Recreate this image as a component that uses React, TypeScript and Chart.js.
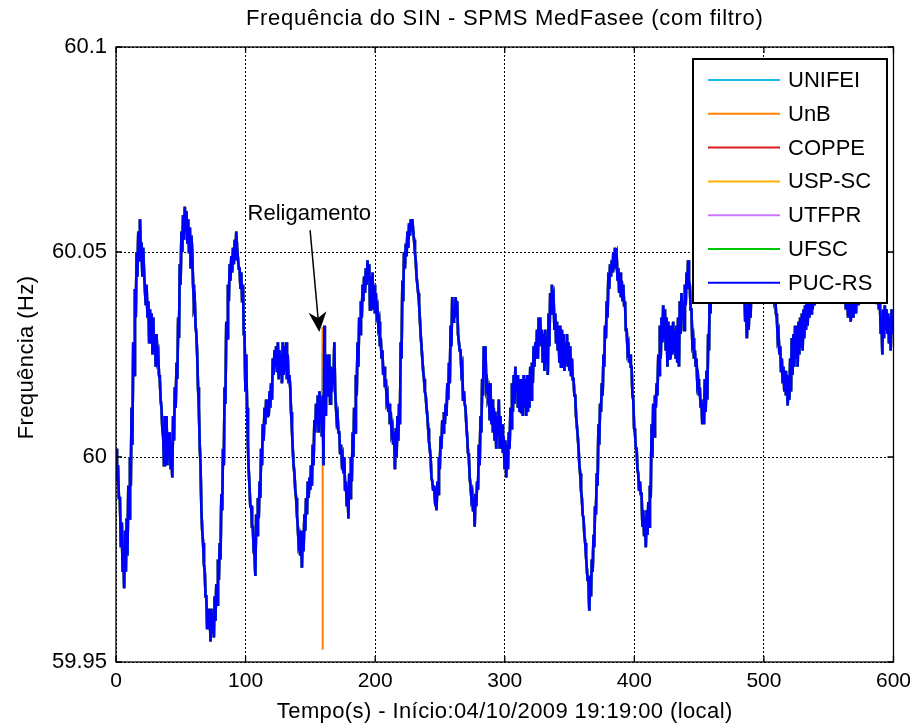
import React, { useEffect, useRef } from "react";
import { Chart, registerables } from "chart.js";

Chart.register(...registerables);

const FONT = '"Liberation Sans", Arial, Helvetica, sans-serif';

const chartTitle = "Frequência do SIN - SPMS MedFasee (com filtro)";
const xAxisTitle = "Tempo(s) - Início:04/10/2009 19:19:00 (local)";
const yAxisTitle = "Frequência (Hz)";

const xTicks = [0, 100, 200, 300, 400, 500, 600];
const yTicks = [59.95, 60, 60.05, 60.1];

const stations = ["UNIFEI", "UnB", "COPPE", "USP-SC", "UTFPR", "UFSC", "PUC-RS"];
const stationColors = ["#1ab8f0", "#ff8000", "#d81e1e", "#ffb000", "#cc77ff", "#00c800", "#0000ff"];

// Time of each reading (s)
const timeS = [
  0, 1.5, 3, 4.5, 5.6, 7, 8.2, 9.5, 10.8, 12,
  13.3, 14.6, 15.9, 17.2, 18.5, 19.7, 21, 22.3, 23.6, 25,
  26.2, 27.5, 28.8, 30, 31.3, 32.6, 33.8, 35.1, 36.4, 37.7,
  39, 40.3, 41.5, 42.8, 44.1, 45.4, 46.7, 48, 49.2, 50.5,
  51.8, 53.1, 54.4, 55.7, 57, 58.2, 59.5, 60.8, 62, 63.3,
  64.6, 65.9, 67.2, 68.5, 69.7, 71, 72.3, 73.6, 74.9, 76.1,
  77.4, 78.7, 80, 81.3, 82.6, 83.8, 85.1, 86.4, 87.7, 89,
  90.3, 91.6, 92.8, 94.1, 95.4, 96.7, 98, 99.2,
  100.5, 101.8, 103, 104.3, 105.6, 106.9, 108.2, 109.5, 110.8, 112,
  113.3, 114.6, 115.9, 117.2, 118.5, 119.7, 121, 122.3, 123.6, 124.9,
  126.2, 127.4, 128.7, 130, 131.3, 132.5, 133.8, 135.1, 136.4, 137.7,
  139, 140.3, 141.5, 142.8, 144.1, 145.4, 146.7, 148, 149.3, 150.5,
  151.8, 153.1, 154.4, 155.7, 157, 158.2, 159.5, 160.8, 161.5, 162.4,
  163.3, 164.6, 165.9, 167.2, 168.5, 169.7, 171, 172.3, 173.6, 174.9,
  176.2, 177.4, 178.7, 180, 181.3, 182.6, 183.8, 185.1, 186.4, 187.7,
  189, 190.3, 191.5, 192.8, 194.1, 195.4, 196.7, 198, 199.2,
  200.5, 201.8, 203.1, 204.3, 205.6, 206.9, 208.2, 209.5, 210.8, 212,
  213.3, 214.6, 215.9, 217.2, 218.5, 219.7, 221, 222.3, 223.6, 224.9,
  226.2, 227.5, 228.7, 230, 231.3, 232.6, 233.8, 235.1, 236.4, 237.7,
  239, 240.3, 241.5, 242.8, 244.1, 245.4, 246.7, 248, 249.2, 250.5,
  251.8, 253.1, 254.4, 255.7, 257, 258.2, 259.5, 260.8, 262.1, 263.3,
  264.6, 265.9, 267.2, 268.5, 269.7, 271, 272.3, 273.6, 274.9, 276.2,
  277.4, 278.7, 280, 281.3, 282.6, 283.8, 285.1, 286.4, 287.7, 289,
  290.3, 291.5, 292.8, 294.1, 295.4, 296.7, 298, 299.2,
  300.5, 301.8, 303.1, 304.4, 305.6, 306.9, 308.2, 309.5, 310.8, 312,
  313.3, 314.6, 315.9, 317.2, 318.5, 319.7, 321, 322.3, 323.6, 324.9,
  326.2, 327.4, 328.7, 330, 331.3, 332.6, 333.8, 335.1, 336.4, 337.7,
  339, 340.3, 341.5, 342.8, 344.1, 345.4, 346.7, 348, 349.2, 350.5,
  351.8, 353.1, 354.4, 355.7, 357, 358.2, 359.5, 360.8, 362.1, 363.3,
  364.6, 365.9, 367.2, 368.5, 369.7, 371, 372.3, 373.6, 374.9, 376.2,
  377.4, 378.7, 380, 381.3, 382.6, 383.8, 385.1, 386.4, 387.7, 389,
  390.3, 391.5, 392.8, 394.1, 395.4, 396.7, 397.9, 399.2,
  400.5, 401.8, 403, 404.3, 405.6, 406.9, 408.2, 409.5, 410.8, 412,
  413.3, 414.6, 415.9, 417.2, 418.5, 419.7, 421, 422.3, 423.6, 424.9,
  426.2, 427.4, 428.7, 430, 431.3, 432.5, 433.8, 435.1, 436.4, 437.7,
  439, 440.3, 441.5, 442.8, 444.1, 445.4, 446.7, 448, 449.2, 450.5,
  451.8, 453.1, 454.4, 455.7, 457, 458.2, 459.5, 462, 465, 468,
  471, 474, 477, 480, 483, 485, 486.2, 487.5, 489, 490.5,
  493, 496, 499,
  502, 505, 507.5, 508.7, 510, 511.3, 512.6, 513.8, 515.1, 516.4,
  517.7, 519, 520.3, 521.5, 522.8, 524.1, 525.4, 526.7, 528, 529.3,
  530.5, 531.8, 533.1, 534.4, 535.7, 537, 538.3, 540, 543, 546,
  549, 552, 555, 558, 561, 562.5, 564, 566, 568, 570,
  572, 574, 577, 580, 583, 586, 588, 589.5, 590.8, 592,
  593.3, 594.6, 595.9, 597.2, 598.5, 600,
];

// Lower edge of the noisy trace at each reading (Hz)
const freqLow = [
  59.994, 59.99, 59.978, 59.972, 59.968, 59.972, 59.976, 59.985, 59.993, 60.003,
  60.02, 60.034, 60.044, 60.048, 60.052, 60.044, 60.045, 60.037, 60.034, 60.028,
  60.03, 60.025, 60.026, 60.022, 60.024, 60.02, 60.014, 60.007, 59.998, 60.0,
  59.998, 60.0, 59.997, 59.995, 60.004, 60.012, 60.019, 60.029, 60.042, 60.05,
  60.053, 60.055, 60.052, 60.05, 60.046, 60.05, 60.037, 60.032, 60.025, 60.012,
  59.998, 59.982, 59.974, 59.966, 59.958, 59.958, 59.955, 59.957, 59.956, 59.96,
  59.964, 59.97, 59.975, 59.987, 59.998, 60.013, 60.029, 60.038, 60.043, 60.045,
  60.047, 60.048, 60.051, 60.046, 60.041, 60.038, 60.03, 60.016,
  60.012, 59.997, 59.988, 59.983, 59.977, 59.971, 59.981, 59.985, 59.99, 59.998,
  60.004, 60.008, 60.01, 60.01, 60.012, 60.014, 60.02, 60.022, 60.021, 60.019,
  60.02, 60.018, 60.02, 60.021, 60.019, 60.018, 60.017, 60.007, 59.998, 59.992,
  59.986, 59.979, 59.976, 59.973, 59.977, 59.982, 59.986, 59.99, 59.992, 59.993,
  59.998, 60.006, 60.008, 60.006, 60.012, 60.005, 59.998, 60.025, 60.01, 60.015,
  60.02, 60.013, 60.016, 60.018, 60.016, 60.009, 60.006, 60.001, 59.999, 59.996,
  59.992, 59.988, 59.985, 59.99, 59.994, 60.0, 60.006, 60.015, 60.022, 60.03,
  60.034, 60.038, 60.04, 60.042, 60.044, 60.036, 60.038, 60.036, 60.035,
  60.035, 60.032, 60.027, 60.024, 60.02, 60.017, 60.014, 60.011, 60.008, 60.006,
  60.003, 59.997, 60.0, 60.004, 60.008, 60.024, 60.038, 60.046, 60.049, 60.051,
  60.054, 60.055, 60.055, 60.05, 60.044, 60.04, 60.034, 60.027, 60.021, 60.016,
  60.012, 60.007, 60.002, 59.995, 59.992, 59.99, 59.987, 59.991, 59.997, 60.002,
  60.006, 60.008, 60.01, 60.014, 60.018, 60.027, 60.033, 60.034, 60.036, 60.03,
  60.026, 60.021, 60.014, 60.013, 60.008, 60.001, 59.995, 59.99, 59.987, 59.983,
  59.988, 59.992, 59.998, 60.006, 60.015, 60.024, 60.017, 60.015, 60.009, 60.008,
  60.006, 60.004, 60.002, 60.005, 60.002, 60.002, 60.001, 59.997,
  59.995, 59.997, 60.002, 60.007, 60.011, 60.013, 60.016, 60.012, 60.011, 60.011,
  60.01, 60.012, 60.01, 60.011, 60.012, 60.014, 60.018, 60.022, 60.024, 60.024,
  60.027, 60.028, 60.023, 60.021, 60.023, 60.02, 60.027, 60.035, 60.038, 60.031,
  60.028, 60.026, 60.023, 60.022, 60.023, 60.021, 60.023, 60.022, 60.021, 60.02,
  60.019, 60.015, 60.01, 60.005, 59.998, 59.992, 59.986, 59.981, 59.976, 59.97,
  59.9625, 59.966, 59.972, 59.978, 59.986, 59.993, 60.003, 60.011, 60.015, 60.022,
  60.029, 60.034, 60.041, 60.044, 60.045, 60.046, 60.048, 60.043, 60.04, 60.039,
  60.038, 60.037, 60.031, 60.026, 60.023, 60.022, 60.015, 60.007,
  60.002, 59.997, 59.992, 59.991, 59.983, 59.981, 59.978, 59.981, 59.983, 59.99,
  60.0, 60.005, 60.012, 60.015, 60.02, 60.024, 60.028, 60.029, 60.026, 60.022,
  60.024, 60.024, 60.025, 60.026, 60.024, 60.023, 60.022, 60.03, 60.034, 60.031,
  60.037, 60.041, 60.043, 60.036, 60.028, 60.024, 60.022, 60.018, 60.015, 60.012,
  60.008, 60.008, 60.011, 60.014, 60.026, 60.035, 60.042, 60.045, 60.044, 60.046,
  60.043, 60.045, 60.042, 60.041, 60.039, 60.033, 60.029, 60.031, 60.034, 60.04,
  60.043, 60.045, 60.044,
  60.045, 60.042, 60.039, 60.035, 60.029, 60.025, 60.021, 60.018, 60.016, 60.015,
  60.0126, 60.014, 60.016, 60.02, 60.022, 60.024, 60.022, 60.025, 60.027, 60.026,
  60.029, 60.031, 60.032, 60.034, 60.035, 60.036, 60.037, 60.04, 60.043, 60.045,
  60.044, 60.046, 60.043, 60.041, 60.039, 60.036, 60.034, 60.033, 60.034, 60.035,
  60.037, 60.04, 60.043, 60.045, 60.043, 60.04, 60.036, 60.03, 60.025, 60.029,
  60.031, 60.03, 60.028, 60.026, 60.03, 60.029,
];

// Upper edge of the noisy trace at each reading (Hz)
const freqHigh = [
  60.002, 59.998, 59.99, 59.984, 59.978, 59.982, 59.985, 59.993, 60.0, 60.012,
  60.028, 60.041, 60.05, 60.055, 60.058, 60.052, 60.051, 60.045, 60.042, 60.038,
  60.036, 60.035, 60.034, 60.03, 60.03, 60.025, 60.019, 60.012, 60.005, 60.01,
  60.01, 60.006, 60.006, 60.0, 60.01, 60.017, 60.023, 60.034, 60.047, 60.055,
  60.059, 60.061, 60.06, 60.058, 60.056, 60.054, 60.042, 60.038, 60.03, 60.017,
  60.003, 59.987, 59.979, 59.972, 59.966, 59.963, 59.962, 59.963, 59.962, 59.966,
  59.969, 59.975, 59.979, 59.991, 60.002, 60.017, 60.033, 60.042, 60.047, 60.049,
  60.051, 60.053, 60.055, 60.051, 60.046, 60.045, 60.042, 60.03,
  60.025, 60.003, 59.993, 59.988, 59.983, 59.976, 59.986, 59.99, 59.994, 60.002,
  60.008, 60.012, 60.014, 60.014, 60.016, 60.018, 60.024, 60.026, 60.027, 60.028,
  60.026, 60.025, 60.028, 60.027, 60.028, 60.025, 60.02, 60.011, 60.002, 59.996,
  59.99, 59.983, 59.98, 59.982, 59.982, 59.986, 59.99, 59.994, 59.995, 59.998,
  60.003, 60.009, 60.013, 60.015, 60.016, 60.013, 60.015, 60.032, 60.023, 60.025,
  60.024, 60.025, 60.022, 60.02, 60.028, 60.016, 60.01, 60.006, 60.003, 60.0,
  60.0, 59.994, 59.993, 59.996, 60.0, 60.006, 60.012, 60.02, 60.028, 60.034,
  60.038, 60.042, 60.044, 60.046, 60.048, 60.047, 60.044, 60.045, 60.042,
  60.04, 60.036, 60.033, 60.029, 60.026, 60.022, 60.019, 60.015, 60.013, 60.011,
  60.007, 60.006, 60.007, 60.01, 60.013, 60.028, 60.043, 60.05, 60.052, 60.055,
  60.057, 60.058, 60.058, 60.053, 60.048, 60.042, 60.038, 60.03, 60.024, 60.019,
  60.015, 60.01, 60.004, 60.0, 59.994, 59.993, 59.991, 59.994, 60.0, 60.005,
  60.009, 60.011, 60.013, 60.018, 60.023, 60.032, 60.039, 60.036, 60.039, 60.038,
  60.03, 60.026, 60.022, 60.016, 60.012, 60.005, 60.0, 59.993, 59.991, 59.99,
  59.991, 59.994, 60.003, 60.01, 60.019, 60.027, 60.027, 60.018, 60.016, 60.018,
  60.014, 60.012, 60.011, 60.01, 60.014, 60.01, 60.008, 60.005,
  60.004, 60.003, 60.006, 60.012, 60.018, 60.02, 60.022, 60.02, 60.018, 60.019,
  60.019, 60.02, 60.019, 60.02, 60.019, 60.022, 60.023, 60.027, 60.028, 60.031,
  60.034, 60.034, 60.031, 60.03, 60.031, 60.029, 60.035, 60.04, 60.042, 60.039,
  60.035, 60.033, 60.032, 60.032, 60.031, 60.03, 60.028, 60.03, 60.028, 60.027,
  60.024, 60.019, 60.015, 60.01, 60.002, 59.996, 59.99, 59.985, 59.979, 59.973,
  59.97, 59.971, 59.975, 59.981, 59.988, 59.996, 60.008, 60.013, 60.018, 60.025,
  60.032, 60.038, 60.045, 60.047, 60.048, 60.05, 60.051, 60.049, 60.046, 60.045,
  60.043, 60.042, 60.038, 60.031, 60.027, 60.025, 60.022, 60.014,
  60.006, 60.002, 59.996, 59.994, 59.991, 59.987, 59.985, 59.987, 59.989, 59.993,
  60.008, 60.013, 60.015, 60.018, 60.025, 60.032, 60.034, 60.037, 60.036, 60.034,
  60.033, 60.032, 60.032, 60.033, 60.031, 60.032, 60.034, 60.038, 60.04, 60.038,
  60.042, 60.045, 60.048, 60.042, 60.036, 60.029, 60.026, 60.024, 60.019, 60.017,
  60.014, 60.013, 60.019, 60.021, 60.03, 60.042, 60.048, 60.052, 60.05, 60.053,
  60.05, 60.051, 60.049, 60.047, 60.045, 60.04, 60.036, 60.038, 60.04, 60.046,
  60.05, 60.052, 60.05,
  60.051, 60.048, 60.045, 60.04, 60.034, 60.03, 60.027, 60.024, 60.022, 60.021,
  60.019, 60.02, 60.024, 60.029, 60.03, 60.032, 60.031, 60.033, 60.034, 60.035,
  60.036, 60.037, 60.039, 60.04, 60.041, 60.042, 60.043, 60.047, 60.05, 60.052,
  60.05, 60.052, 60.049, 60.047, 60.045, 60.042, 60.04, 60.039, 60.04, 60.041,
  60.043, 60.047, 60.05, 60.051, 60.049, 60.046, 60.042, 60.038, 60.034, 60.036,
  60.037, 60.036, 60.035, 60.034, 60.036, 60.035,
];

// UnB reading glitch at the reclosing instant
const unbGlitchTime = [159.42, 159.5, 159.58];
const unbGlitchFreq = [60.0317, 59.953, 60.0];

// "Religamento" annotation (data coordinates: s, Hz)
const annotationLabel = "Religamento";
const annotationTextAt = [149.2, 60.0592];
const annotationArrowFrom = [149.8, 60.0553];
const annotationArrowTo = [156.9, 60.0305];

type Pt = { x: number; y: number };

function tracePoints(): Pt[] {
  const n = Math.min(timeS.length, freqLow.length, freqHigh.length);
  const pts: Pt[] = [];
  for (let i = 0; i < n; i++) {
    const next = i + 1 < n ? timeS[i + 1] : timeS[i] + 1.3;
    pts.push({ x: timeS[i], y: freqHigh[i] });
    pts.push({ x: (timeS[i] + next) / 2, y: freqLow[i] });
  }
  return pts;
}

function withGlitch(base: Pt[]): Pt[] {
  const extra = unbGlitchTime.map((t, i) => ({ x: t, y: unbGlitchFreq[i] }));
  return [...base, ...extra].sort((a, b) => a.x - b.x);
}

function spacedText(ctx: CanvasRenderingContext2D, text: string, x: number, y: number, spacing: number) {
  (ctx as any).letterSpacing = `${spacing}px`;
  ctx.fillText(text, x, y);
  (ctx as any).letterSpacing = "0px";
}

const framePlugin = {
  id: "matlabFrame",
  afterDraw(chart: any) {
    const { ctx, chartArea: a, scales } = chart;
    const xs = scales.x;
    const ys = scales.y;
    ctx.save();

    // frame and inward ticks
    ctx.strokeStyle = "#000";
    ctx.lineWidth = 1.3;
    ctx.setLineDash([]);
    ctx.strokeRect(a.left, a.top, a.right - a.left, a.bottom - a.top);
    const tl = 6;
    ctx.beginPath();
    xTicks.forEach((v) => {
      const px = xs.getPixelForValue(v);
      ctx.moveTo(px, a.bottom);
      ctx.lineTo(px, a.bottom - tl);
      ctx.moveTo(px, a.top);
      ctx.lineTo(px, a.top + tl);
    });
    yTicks.forEach((v) => {
      const py = ys.getPixelForValue(v);
      ctx.moveTo(a.left, py);
      ctx.lineTo(a.left + tl, py);
      ctx.moveTo(a.right, py);
      ctx.lineTo(a.right - tl, py);
    });
    ctx.stroke();

    // annotation
    const tx = xs.getPixelForValue(annotationTextAt[0]);
    const ty = ys.getPixelForValue(annotationTextAt[1]);
    ctx.fillStyle = "#000";
    ctx.font = `22px ${FONT}`;
    ctx.textAlign = "center";
    ctx.textBaseline = "middle";
    ctx.fillText(annotationLabel, tx, ty);
    const x0 = xs.getPixelForValue(annotationArrowFrom[0]);
    const y0 = ys.getPixelForValue(annotationArrowFrom[1]);
    const x1 = xs.getPixelForValue(annotationArrowTo[0]);
    const y1 = ys.getPixelForValue(annotationArrowTo[1]);
    const ang = Math.atan2(y1 - y0, x1 - x0);
    const hl = 20, hw = 9, back = 14;
    ctx.lineWidth = 1.5;
    ctx.beginPath();
    ctx.moveTo(x0, y0);
    ctx.lineTo(x1 - Math.cos(ang) * back, y1 - Math.sin(ang) * back);
    ctx.stroke();
    const cx = Math.cos(ang), sx = Math.sin(ang);
    ctx.beginPath();
    ctx.moveTo(x1, y1);
    ctx.lineTo(x1 - cx * hl - sx * hw, y1 - sx * hl + cx * hw);
    ctx.lineTo(x1 - cx * back, y1 - sx * back);
    ctx.lineTo(x1 - cx * hl + sx * hw, y1 - sx * hl - cx * hw);
    ctx.closePath();
    ctx.fill();

    // legend
    const lx = 693, ly = 59, lw = 194, lh = 244;
    ctx.fillStyle = "#fff";
    ctx.fillRect(lx, ly, lw, lh);
    ctx.strokeStyle = "#000";
    ctx.lineWidth = 2;
    ctx.strokeRect(lx, ly, lw, lh);
    ctx.font = `22px ${FONT}`;
    ctx.textAlign = "left";
    ctx.textBaseline = "middle";
    chart.data.datasets.forEach((ds: any, i: number) => {
      const yy = ly + 21 + i * 33.8;
      ctx.strokeStyle = ds.borderColor;
      ctx.lineWidth = 2;
      ctx.beginPath();
      ctx.moveTo(lx + 15, yy);
      ctx.lineTo(lx + 87, yy);
      ctx.stroke();
      ctx.fillStyle = "#000";
      ctx.fillText(ds.label, lx + 95, yy + 1);
    });

    // titles
    const midX = (a.left + a.right) / 2;
    ctx.fillStyle = "#000";
    ctx.textAlign = "center";
    ctx.textBaseline = "middle";
    ctx.font = `22px ${FONT}`;
    spacedText(ctx, chartTitle, midX, 19, 0.7);
    spacedText(ctx, xAxisTitle, midX, 712, 0.4);
    ctx.save();
    ctx.translate(27, (a.top + a.bottom) / 2 + 3);
    ctx.rotate(-Math.PI / 2);
    spacedText(ctx, yAxisTitle, 0, 0, 0.4);
    ctx.restore();

    ctx.restore();
  },
};

export default function App() {
  const ref = useRef<HTMLCanvasElement | null>(null);
  useEffect(() => {
    if (!ref.current) return;
    const base = tracePoints();
    const datasets = stations.map((name, i) => ({
      label: name,
      data: name === "UnB" ? withGlitch(base) : base,
      borderColor: stationColors[i],
      backgroundColor: stationColors[i],
      borderWidth: name === "UnB" ? 2 : 2.6,
      pointRadius: 0,
      tension: 0,
      fill: false,
      order: stations.length - i,
    }));
    const chart = new Chart(ref.current, {
      type: "line",
      data: { datasets },
      options: {
        animation: false,
        responsive: false,
        devicePixelRatio: 1,
        parsing: false,
        events: [],
        layout: { padding: { top: 47, right: 22, left: 0, bottom: 0 } },
        plugins: {
          legend: { display: false },
          title: { display: false },
          tooltip: { enabled: false },
        },
        scales: {
          x: {
            type: "linear",
            min: 0,
            max: 600,
            afterBuildTicks: (s: any) => {
              s.ticks = xTicks.map((v) => ({ value: v }));
            },
            afterFit: (s: any) => {
              s.height = 62;
            },
            grid: { color: "#000", lineWidth: 1, drawTicks: false },
            border: { display: false, dash: [2, 2] },
            ticks: {
              color: "#000",
              font: { family: FONT, size: 21 },
              padding: 7,
              maxRotation: 0,
              autoSkip: false,
              callback: (v: any) => String(v),
            },
          },
          y: {
            type: "linear",
            min: 59.95,
            max: 60.1,
            afterBuildTicks: (s: any) => {
              s.ticks = yTicks.map((v) => ({ value: v }));
            },
            afterFit: (s: any) => {
              s.width = 116;
            },
            grid: { color: "#000", lineWidth: 1, drawTicks: false },
            border: { display: false, dash: [2, 2] },
            ticks: {
              color: "#000",
              font: { family: FONT, size: 22 },
              padding: 9,
              autoSkip: false,
              callback: (v: any) => String(Number(Number(v).toFixed(2))),
            },
          },
        },
      },
      plugins: [framePlugin],
    } as any);
    return () => chart.destroy();
  }, []);
  return (
    <div style={{ position: "absolute", left: 0, top: 0, width: 918, height: 724, background: "#fff" }}>
      <canvas ref={ref} width={918} height={724} style={{ width: 918, height: 724, display: "block" }} />
    </div>
  );
}
